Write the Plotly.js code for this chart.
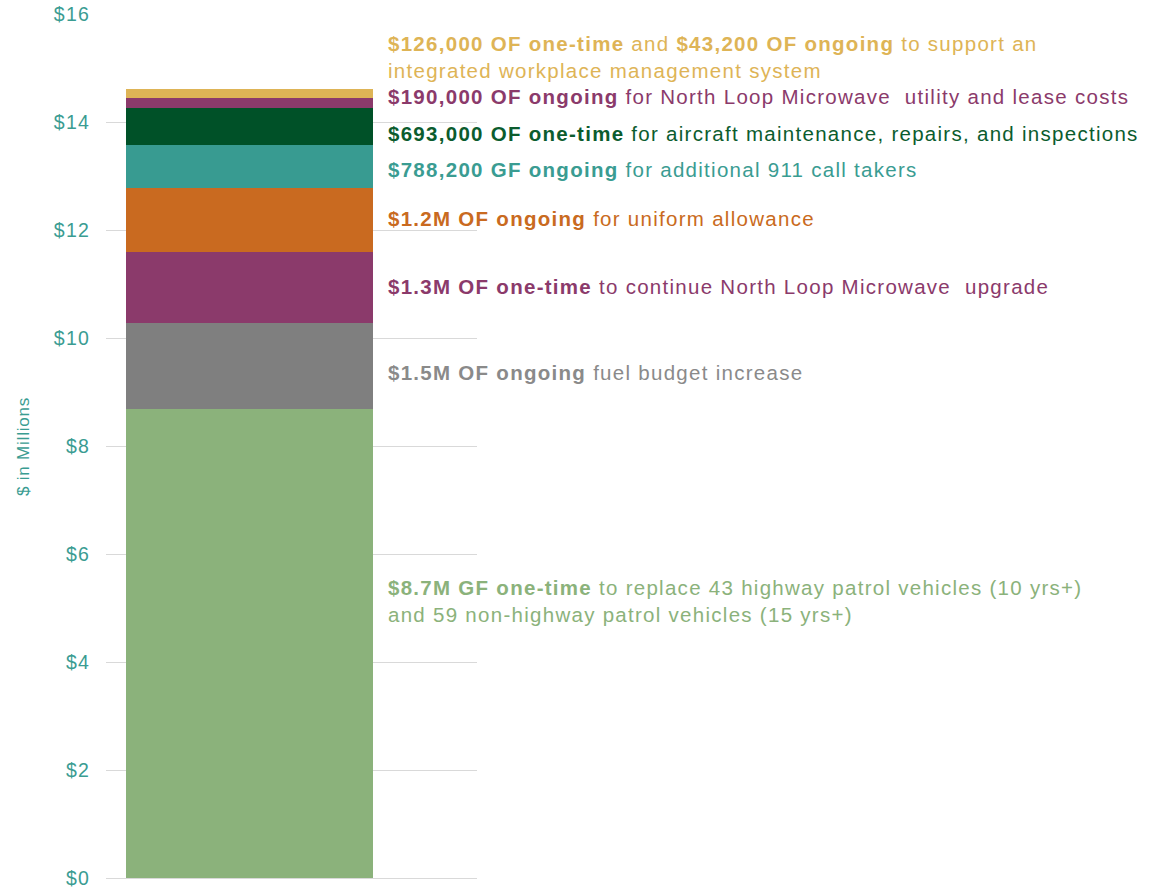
<!DOCTYPE html>
<html>
<head>
<meta charset="utf-8">
<script src="https://cdn.plot.ly/plotly-3.0.1.min.js"></script>
<style>
html,body{margin:0;padding:0;background:#fff;}
#chart{width:1149px;height:889px;}
#chart .annotation-text{letter-spacing:1.28px;}
#chart .ytick text{letter-spacing:1.2px;}
#chart .ytitle{letter-spacing:0.8px;}
</style>
</head>
<body>
<div id="chart"></div>
<script>
// Data (in $ millions), bottom to top
const segmentNames = [
  "8.7M GF one-time vehicles",
  "1.5M OF ongoing fuel",
  "1.3M OF one-time microwave upgrade",
  "1.2M OF ongoing uniform",
  "788,200 GF ongoing 911",
  "693,000 OF one-time aircraft",
  "190,000 OF ongoing microwave utility",
  "169,200 OF workplace system"
];
const segmentValues = [8.7, 1.59, 1.31, 1.19, 0.788, 0.693, 0.19, 0.169];
const segmentColors = ["#8BB27B", "#7F7F7F", "#8B3A6B", "#C96A20", "#389B91", "#005128", "#8B3A6B", "#DEB456"];
const textColors = ["#8BB27B", "#8A8A8A", "#8B3A6B", "#C96A20", "#3A9C92", "#0B5C2E", "#8B3A6B", "#DEB456"];
const labelTexts = [
  "<b>$8.7M GF one-time</b> to replace 43 highway patrol vehicles (10 yrs+)<br>and 59 non-highway patrol vehicles (15 yrs+)",
  "<b>$1.5M OF ongoing</b> fuel budget increase",
  "<b>$1.3M OF one-time</b> to continue North Loop Microwave  upgrade",
  "<b>$1.2M OF ongoing</b> for uniform allowance",
  "<b>$788,200 GF ongoing</b> for additional 911 call takers",
  "<b>$693,000 OF one-time</b> for aircraft maintenance, repairs, and inspections",
  "<b>$190,000 OF ongoing</b> for North Loop Microwave  utility and lease costs",
  "<b>$126,000 OF one-time</b> and <b>$43,200 OF ongoing</b> to support an<br>integrated workplace management system"
];
const labelY = [5.14, 9.38, 10.96, 12.23, 13.14, 13.8, 14.48, 15.21];
const tickVals = [0, 2, 4, 6, 8, 10, 12, 14, 16];
const tickText = ["$0", "$2", "$4", "$6", "$8", "$10", "$12", "$14", "$16"];

const FONT = "Liberation Sans, Arial, sans-serif";

const traces = segmentValues.map((v, i) => ({
  type: "bar",
  x: [0],
  y: [v],
  name: segmentNames[i],
  width: [1],
  marker: { color: segmentColors[i], line: { width: 0 } },
  hoverinfo: "skip"
}));

const annotations = labelTexts.map((t, i) => ({
  xref: "x", yref: "y",
  x: 0.553, y: labelY[i],
  xanchor: "left", yanchor: "middle",
  align: "left",
  text: t,
  showarrow: false,
  font: { family: FONT, size: 20.5, color: textColors[i] }
}));

const layout = {
  width: 1149, height: 889,
  margin: { l: 106, r: 672, t: 14, b: 10, pad: 0 },
  paper_bgcolor: "#fff", plot_bgcolor: "#fff",
  barmode: "stack",
  showlegend: false,
  font: { family: FONT },
  xaxis: { range: [-0.581, 0.921], showticklabels: false, showgrid: false, zeroline: false, showline: false, fixedrange: true },
  yaxis: {
    range: [-0.012, 16.012], tickvals: tickVals, ticktext: tickText,
    showgrid: true, gridcolor: "#D9D9D9", gridwidth: 1.3,
    zeroline: true, zerolinecolor: "#D9D9D9", zerolinewidth: 1.3,
    showline: false, ticks: "",
    ticklabelstandoff: 15,
    ticklabeloverflow: "allow",
    tickfont: { family: FONT, size: 19.5, color: "#3A9C92" },
    title: { text: "$ in Millions", standoff: 23, font: { family: FONT, size: 17, color: "#3A9C92" } },
    automargin: false
  },
  annotations: annotations
};

Plotly.newPlot("chart", traces, layout, { displayModeBar: false, staticPlot: true });
</script>
</body>
</html>
